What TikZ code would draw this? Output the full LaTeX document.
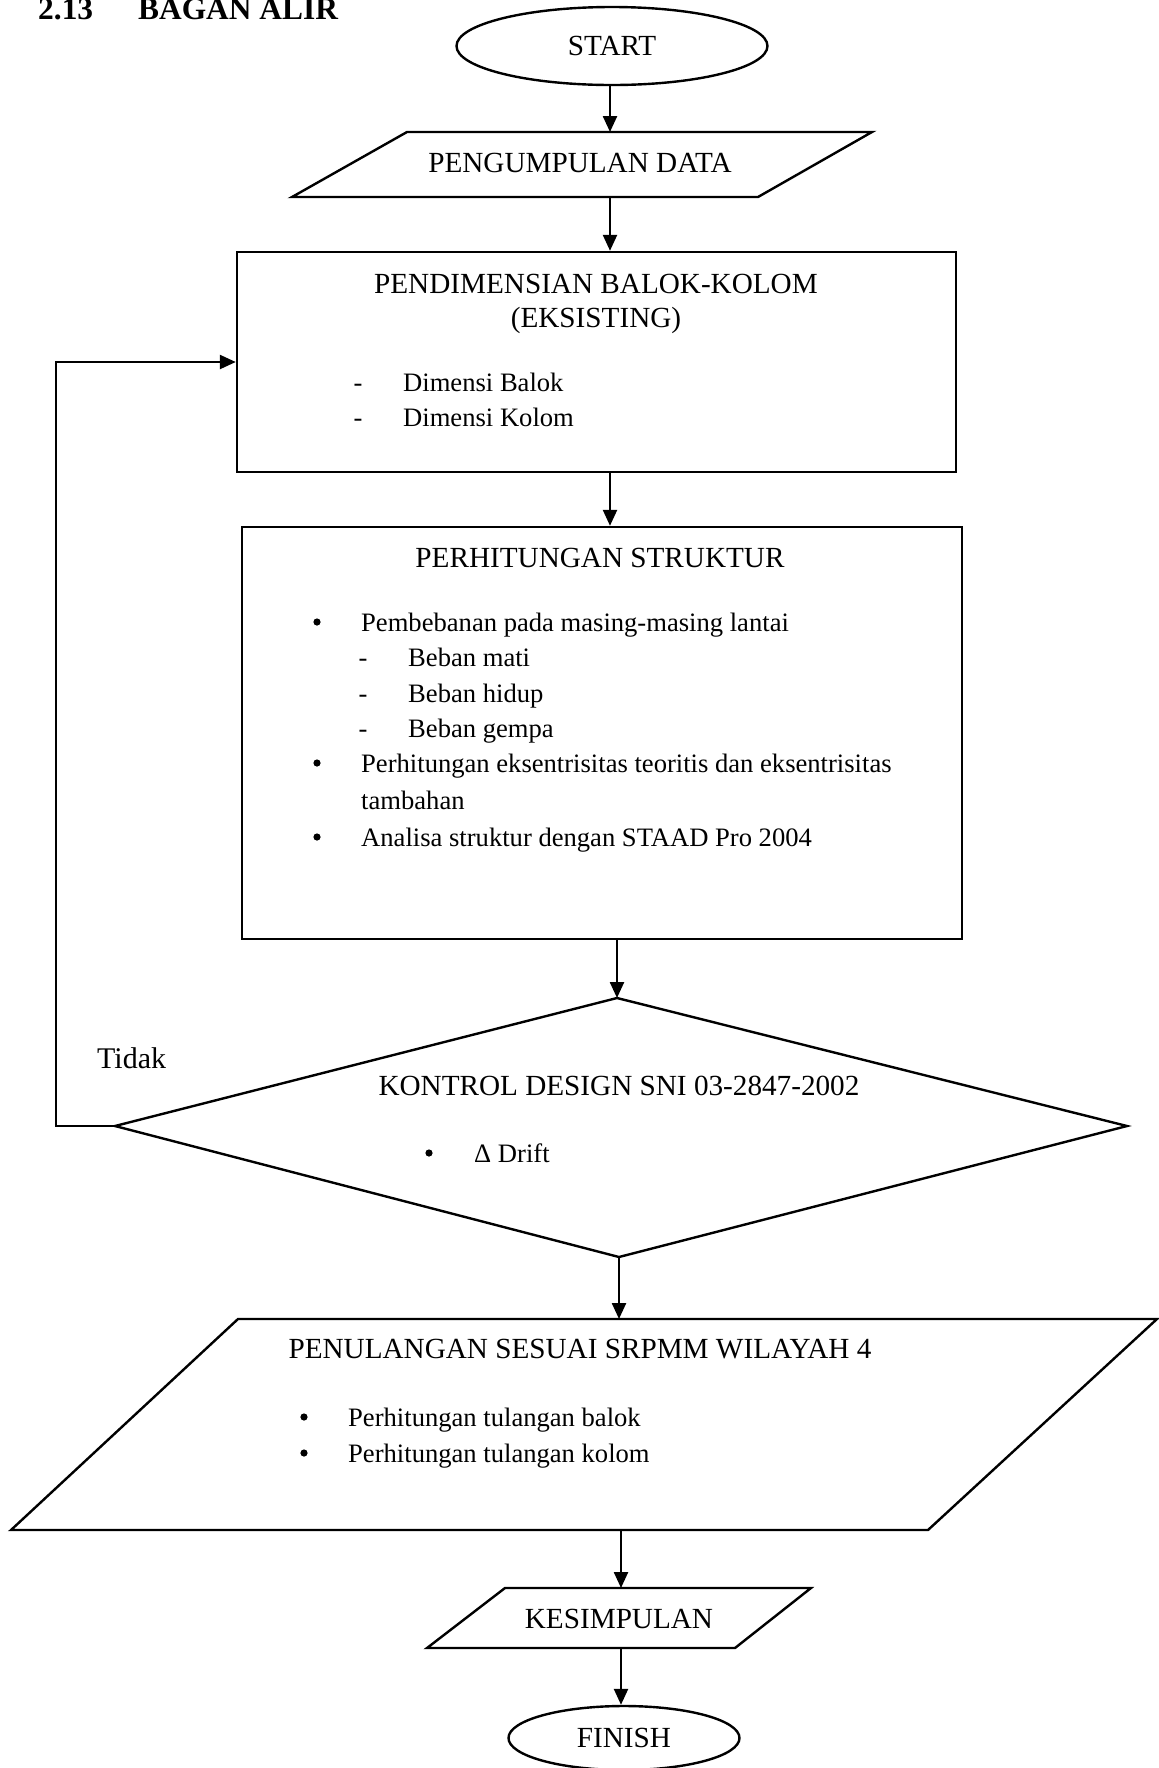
\documentclass[tikz,border=0pt]{standalone}
\usepackage{fontspec}
\setmainfont{Liberation Serif}
\usetikzlibrary{arrows.meta,shapes.geometric}
\begin{document}
\begin{tikzpicture}[x=0.5pt,y=-0.5pt,line width=1.2pt,
  arr/.style={-{Triangle[length=8pt,width=7pt]}},
  captext/.style={font=\fontsize{14.6}{17}\selectfont, inner sep=0pt, anchor=base},
  bodytext/.style={font=\fontsize{13.3}{16}\selectfont, inner sep=0pt, anchor=base west},
  bulletmark/.style={font=\fontsize{13.3}{16}\selectfont, inner sep=0pt, anchor=base},
  dot/.style={circle, fill=black, draw=none, inner sep=0pt, minimum size=3.6pt},
  titletext/.style={font=\fontsize{15.7}{18}\selectfont\bfseries, inner sep=0pt, anchor=base west},
  oval/.style={draw, ellipse, inner sep=0pt, font=\fontsize{14.6}{17}\selectfont},
  box/.style={draw, rectangle, inner sep=0pt}]
\fill[white] (0,0) rectangle (1159,1768);
\useasboundingbox (0,0) rectangle (1159,1768);

% title
\node[titletext] (t1) at (37,19) {2.13};
\node[titletext] (t2) at (137,19) {BAGAN ALIR};

% start
\node[oval, minimum width=155.5pt, minimum height=39pt] (start) at (612,46) {START};

% pengumpulan data
\coordinate (d1) at (407,132);
\coordinate (d2) at (872,132);
\coordinate (d3) at (758,197);
\coordinate (d4) at (292,197);
\draw (d1) -- (d2) -- (d3) -- (d4) -- cycle;
\node[captext] (data) at (580,172) {PENGUMPULAN DATA};

% pendimensian box
\node[box, minimum width=359.5pt, minimum height=110pt] (dim) at (596.5,362) {};
\node[captext] (dimA) at (596,293) {PENDIMENSIAN BALOK-KOLOM};
\node[captext] (dimB) at (596,327) {(EKSISTING)};
\node[bulletmark] (dimC) at (358,391) {-};
\node[bodytext] (dimD) at (402,391) {Dimensi Balok};
\node[bulletmark] (dimE) at (358,426) {-};
\node[bodytext] (dimF) at (402,426) {Dimensi Kolom};

% perhitungan struktur box
\node[box, minimum width=360pt, minimum height=206pt] (str) at (602,733) {};
\node[captext] (strA) at (600,567) {PERHITUNGAN STRUKTUR};
\node[dot] (b1) at (317,622) {};
\node[bodytext] (s1) at (360,631) {Pembebanan pada masing-masing lantai};
\node[bulletmark] (h1) at (363,666) {-};
\node[bodytext] (s2) at (407,666) {Beban mati};
\node[bulletmark] (h2) at (363,702) {-};
\node[bodytext] (s3) at (407,702) {Beban hidup};
\node[bulletmark] (h3) at (363,737) {-};
\node[bodytext] (s4) at (407,737) {Beban gempa};
\node[dot] (b2) at (317,763) {};
\node[bodytext] (s5) at (360,772) {Perhitungan eksentrisitas teoritis dan eksentrisitas};
\node[bodytext] (s6) at (360,809) {tambahan};
\node[dot] (b3) at (317,837) {};
\node[bodytext] (s7) at (360,846) {Analisa struktur dengan STAAD Pro 2004};

% diamond
\coordinate (dT) at (617,998);
\coordinate (dR) at (1127,1126);
\coordinate (dB) at (619,1257);
\coordinate (dL) at (115,1126);
\draw (dT) -- (dR) -- (dB) -- (dL) -- cycle;
\node[captext] (kon) at (619,1095) {KONTROL DESIGN SNI 03-2847-2002};
\node[dot] (b4) at (429,1153) {};
\node[bodytext] (drift) at (473,1162) {Δ Drift};
\node[font=\fontsize{15}{18}\selectfont, inner sep=0pt, anchor=base west] (tidak) at (96,1068) {Tidak};

% penulangan
\coordinate (p1) at (238,1319);
\coordinate (p2) at (1157,1319);
\coordinate (p3) at (928,1530);
\coordinate (p4) at (11,1530);
\draw (p1) -- (p2) -- (p3) -- (p4) -- cycle;
\node[captext] (pen) at (580,1358) {PENULANGAN SESUAI SRPMM WILAYAH 4};
\node[dot] (b5) at (304,1417) {};
\node[bodytext] (pA) at (347,1426) {Perhitungan tulangan balok};
\node[dot] (b6) at (304,1453) {};
\node[bodytext] (pB) at (347,1462) {Perhitungan tulangan kolom};

% kesimpulan
\coordinate (k1) at (505,1588);
\coordinate (k2) at (811,1588);
\coordinate (k3) at (735,1648);
\coordinate (k4) at (427,1648);
\draw (k1) -- (k2) -- (k3) -- (k4) -- cycle;
\node[captext] (kes) at (619,1628) {KESIMPULAN};

% finish
\node[oval, minimum width=115.5pt, minimum height=32pt] (finish) at (624,1738) {FINISH};

% connectors
\coordinate (axA) at (610,0);
\coordinate (axB) at (621,0);
\draw[arr] (start.south -| axA) -- (d1 -| axA);
\draw[arr] (d4 -| axA) -- (dim.north -| axA);
\draw[arr] (dim.south -| axA) -- (str.north -| axA);
\draw[arr] (str.south -| dT) -- (dT);
\draw[arr] (dB) -- (dB |- p1);
\draw[arr] (p4 -| axB) -- (k1 -| axB);
\draw[arr] (k4 -| axB) -- (finish.north -| axB);
\coordinate (fb) at (56,1126);
\draw[arr] (dL) -- (fb) |- (dim.west);
\end{tikzpicture}
\end{document}
